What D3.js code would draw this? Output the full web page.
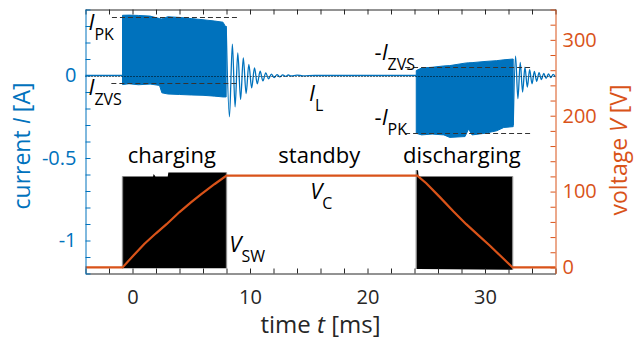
<!DOCTYPE html>
<html>
<head>
<meta charset="utf-8">
<script src="https://cdn.jsdelivr.net/npm/d3@7"></script>
<style>
  body { margin: 0; background: #fff; }
  svg { display: block; font-family: "Open Sans", "Noto Sans", sans-serif; }
</style>
</head>
<body>
<div id="chart"></div>
<script>
const width = 634;
const height = 341;

const blue = "#0072BD";
const orange = "#D95319";
const ink = "#262626";

// axis ticks
const xLabelTicks = [0, 10, 20, 30];
const iLabelTicks = [-1, -0.5, 0];
const vLabelTicks = [0, 100, 200, 300];

// inductor current I_L [t ms, A], quiet parts
const iBefore = [[-4, 0], [-0.85, 0]];
const iRingCharge = [
  [7.97, 0.30], [8.25, -0.25], [8.5, 0.19], [8.73, -0.19], [8.96, 0.137], [9.2, -0.145],
  [9.43, 0.107], [9.67, -0.11], [9.9, 0.067], [10.14, -0.075], [10.38, 0.046], [10.62, -0.05],
  [10.86, 0.026], [11.1, -0.033], [11.34, 0.016], [11.58, -0.02], [11.82, 0.008], [12.06, -0.012],
  [12.3, 0.005], [12.54, -0.008], [12.78, 0.004], [13.02, -0.005], [13.26, 0.003], [13.5, -0.003],
  [14, 0.002], [14.5, -0.002], [15.5, 0], [24.15, 0]
];
const iRingDischarge = [
  [32.4, -0.3], [32.6, 0.117], [32.8, -0.14], [33.0, 0.08], [33.2, -0.1], [33.4, 0.05],
  [33.6, -0.07], [33.8, 0.035], [34.0, -0.05], [34.2, 0.025], [34.4, -0.035], [34.6, 0.018],
  [34.8, -0.025], [35.0, 0.013], [35.2, -0.018], [35.4, 0.01], [35.6, -0.013], [35.8, 0.007],
  [36.0, -0.009]
];

// switching bursts, envelope [t, upper, lower] in A
const burstCharge = [
  [-0.85, 0.365, -0.055], [-0.3, 0.366, -0.05], [0.5, 0.364, -0.056], [1.5, 0.36, -0.052],
  [2.3, 0.345, -0.06], [2.5, 0.343, -0.105], [3.0, 0.356, -0.112], [4.0, 0.352, -0.115],
  [5.0, 0.345, -0.118], [6.0, 0.338, -0.12], [7.0, 0.33, -0.125], [7.7, 0.323, -0.13],
  [7.97, 0.29, -0.13]
];
const burstDischarge = [
  [24.15, 0.03, -0.35], [24.6, 0.045, -0.36], [25.5, 0.05, -0.355], [26.5, 0.058, -0.36],
  [27.0, 0.06, -0.375], [28.3, 0.075, -0.37], [28.6, 0.077, -0.325], [28.9, 0.078, -0.36],
  [30.0, 0.085, -0.35], [31.0, 0.09, -0.335], [31.6, 0.095, -0.315], [32.4, 0.1, -0.31]
];

// switch node voltage V_SW envelope [t, top, bottom] in V
const vswCharge = [
  [-0.85, 120, -1], [1.75, 120, -1], [1.8, 123, -1], [1.95, 120, -1],
  [3.0, 120, -1], [3.05, 125, -1], [8.0, 125, -1]
];
const vswDischarge = [
  [24.15, 128, -2], [24.3, 128, -2], [24.35, 120, -2], [32.35, 120, -3]
];

// capacitor voltage V_C [t, V]
const vc = [
  [-4, 0], [-0.85, 0], [0.1, 16], [1, 31], [2, 45], [2.9, 57], [4, 73], [5, 86], [5.8, 96],
  [7, 110], [8, 121], [24.24, 121], [25, 111], [26.2, 92], [27.3, 74], [28.4, 57],
  [29.4, 43], [30.4, 29], [31.4, 14], [32.35, 0], [36, 0]
];

// reference levels [from t, to t, A]
const iPK = [-1.75, 9.1, 0.355];
const iZVS = [-1.8, 9.1, -0.048];
const negIZVS = [23.2, 34, 0.053];
const negIPK = [23.2, 34, -0.348];

const svg = d3.select("#chart").append("svg")
  .attr("width", width)
  .attr("height", height)
  .attr("viewBox", [0, 0, width, height]);

const x = d3.scaleLinear().domain([-4, 36]).range([85.5, 555.5]);
const yI = d3.scaleLinear().domain([-1.2, 0.4]).range([273.5, 9.5]);
const yV = d3.scaleLinear().domain([-8, 340]).range([273.5, 9.5]);

// V_SW black blocks
const vswArea = d3.area().x(d => x(d[0])).y0(d => yV(d[2])).y1(d => yV(d[1]));
[vswCharge, vswDischarge].forEach(block => {
  svg.append("path").attr("d", vswArea(block)).attr("fill", "#000");
  [block[0], block[block.length - 1]].forEach(d => {
    svg.append("line")
      .attr("x1", x(d[0])).attr("x2", x(d[0]))
      .attr("y1", yV(d[1])).attr("y2", yV(d[2]))
      .attr("stroke", "#8a8a8a").attr("stroke-width", 1.3);
  });
});

// current bursts
const burstArea = d3.area().x(d => x(d[0])).y0(d => yI(d[2])).y1(d => yI(d[1]));
[burstCharge, burstDischarge].forEach(b => {
  svg.append("path").attr("d", burstArea(b))
    .attr("fill", blue).attr("stroke", blue).attr("stroke-width", 1);
});

const iLine = d3.line().x(d => x(d[0])).y(d => yI(d[1])).curve(d3.curveMonotoneX);
[iBefore, iRingCharge, iRingDischarge].forEach(seg => {
  svg.append("path").attr("d", iLine(seg))
    .attr("fill", "none").attr("stroke", blue).attr("stroke-width", 1.3);
});

// V_C
svg.append("path")
  .attr("d", d3.line().x(d => x(d[0])).y(d => yV(d[1]))(vc))
  .attr("fill", "none").attr("stroke", orange).attr("stroke-width", 2.2);

// dashed reference levels
[iPK, iZVS, negIZVS, negIPK].forEach(l => {
  svg.append("line")
    .attr("x1", x(l[0])).attr("x2", x(l[1]))
    .attr("y1", Math.round(yI(l[2])) + 0.5).attr("y2", Math.round(yI(l[2])) + 0.5)
    .attr("stroke", "#333").attr("stroke-width", 1)
    .attr("stroke-dasharray", "5,3");
});

// dotted zero line
svg.append("line")
  .attr("x1", x(-4)).attr("x2", x(36))
  .attr("y1", Math.round(yI(0)) + 0.5).attr("y2", Math.round(yI(0)) + 0.5)
  .attr("stroke", "#000").attr("stroke-width", 1)
  .attr("stroke-dasharray", "1,2");

// axes
const xMinor = d3.range(-4, 37, 2);
const iMinor = d3.range(-12, 5).map(d => d / 10);
const vMinor = d3.range(0, 341, 20);

function styleAxis(g, color, size) {
  g.attr("font-family", null).attr("font-size", size);
  g.select(".domain").attr("stroke", color).attr("stroke-width", 1);
  g.selectAll(".tick line").attr("stroke", color);
  g.selectAll(".tick text").attr("fill", color);
}

svg.append("g")
  .attr("transform", `translate(0,${yI(-1.2)})`)
  .call(d3.axisBottom(x).tickValues(xMinor).tickSizeInner(-5).tickSizeOuter(0).tickPadding(16)
    .tickFormat(d => xLabelTicks.includes(d) ? d : ""))
  .call(g => styleAxis(g, ink, 20));

svg.append("g")
  .attr("transform", `translate(0,${yI(0.4)})`)
  .call(d3.axisTop(x).tickValues(xMinor).tickSizeInner(-5).tickSizeOuter(0).tickFormat(""))
  .call(g => styleAxis(g, ink, 20));

svg.append("g")
  .attr("transform", `translate(${x(-4)},0)`)
  .call(d3.axisLeft(yI).tickValues(iMinor).tickSizeInner(-5).tickSizeOuter(0).tickPadding(9)
    .tickFormat(d => iLabelTicks.some(v => Math.abs(v - d) < 1e-9) ? String(d).replace("−", "-") : ""))
  .call(g => styleAxis(g, blue, 20));

svg.append("g")
  .attr("transform", `translate(${x(36)},0)`)
  .call(d3.axisRight(yV).tickValues(vMinor).tickSizeInner(-5).tickSizeOuter(0).tickPadding(7)
    .tickFormat(d => vLabelTicks.includes(d) ? d : ""))
  .call(g => styleAxis(g, orange, 20));

// axis titles
function title(t, parts, color, size) {
  parts.forEach(p => {
    t.append("tspan").attr("font-style", p[1] ? "italic" : null).text(p[0]);
  });
  t.attr("fill", color).attr("font-size", size);
}

svg.append("text")
  .attr("transform", `translate(21,146) rotate(-90)`)
  .attr("text-anchor", "middle").attr("dominant-baseline", "central")
  .call(t => title(t, [["current "], ["I", true], [" [A]"]], blue, 23));

svg.append("text")
  .attr("transform", `translate(627,150) rotate(-90)`)
  .attr("text-anchor", "middle")
  .call(t => title(t, [["voltage "], ["V", true], [" [V]"]], orange, 23));

svg.append("text")
  .attr("x", x(16)).attr("y", 333)
  .attr("text-anchor", "middle")
  .call(t => title(t, [["time "], ["t", true], [" [ms]"]], ink, 24));

// annotations
function symbol(px, py, prefix, main, sub) {
  const t = svg.append("text").attr("x", px).attr("y", py)
    .attr("fill", "#000").attr("font-size", 22);
  if (prefix) t.append("tspan").text(prefix);
  t.append("tspan").attr("font-style", "italic").text(main);
  t.append("tspan").attr("dy", 10).attr("font-size", 16).text(sub);
}

symbol(x(-3.75), yI(0.273), "", "I", "PK");
symbol(x(-3.75), yI(-0.121), "", "I", "ZVS");
symbol(x(15.03), yI(-0.152), "", "I", "L");
symbol(x(20.6), yI(0.091), "-", "I", "ZVS");
symbol(x(20.6), yI(-0.3), "-", "I", "PK");
symbol(x(15.12), yV(90.8), "", "V", "C");
symbol(x(8.24), yV(20), "", "V", "SW");

[["charging", 3.34], ["standby", 15.9], ["discharging", 28.03]].forEach(p => {
  svg.append("text")
    .attr("x", x(p[1])).attr("y", yV(137.4))
    .attr("text-anchor", "middle")
    .attr("fill", "#000").attr("font-size", 22)
    .text(p[0]);
});
</script>
</body>
</html>
